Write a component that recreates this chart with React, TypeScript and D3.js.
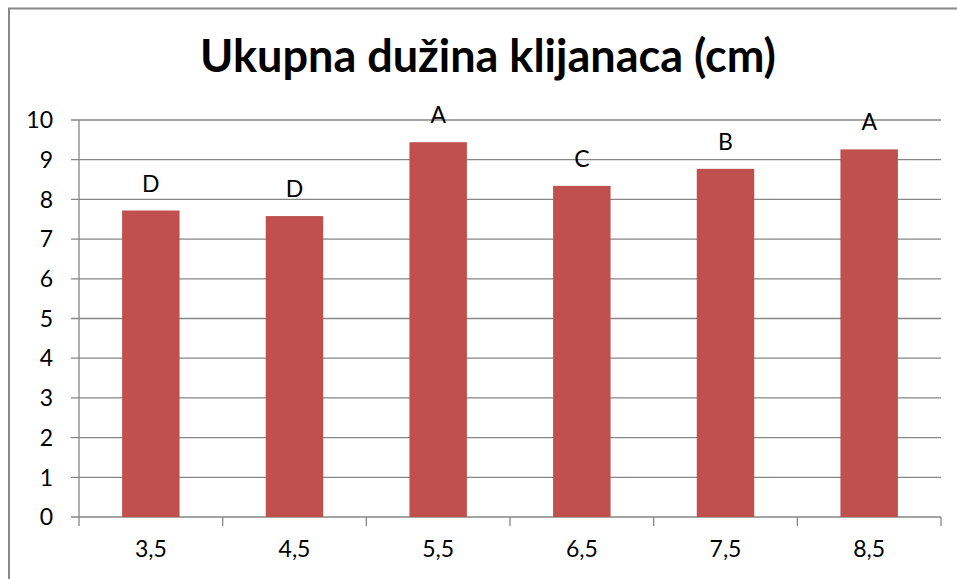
import React, { useEffect, useRef } from 'react'
import * as d3 from 'd3'

const categories = ['3,5', '4,5', '5,5', '6,5', '7,5', '8,5']
const values = [7.72, 7.58, 9.44, 8.34, 8.77, 9.26]
const letters = ['D', 'D', 'A', 'C', 'B', 'A']
const yTicks = [0, 1, 2, 3, 4, 5, 6, 7, 8, 9, 10]

const W = 957
const H = 579
const FONT = 'Lato, "Open Sans", sans-serif'

const App: React.FC = () => {
    const svgRef = useRef<SVGSVGElement>(null)

    useEffect(() => {
        if (!svgRef.current) return
        const svg = d3.select(svgRef.current)
        svg.selectAll('*').remove()

        const left = 79, right = 941, top = 120, bottom = 517

        // outer chart frame (runs off the right/bottom edge)
        svg.append('rect')
            .attr('x', 9).attr('y', 8.5)
            .attr('width', W + 20).attr('height', H + 20)
            .attr('fill', '#fff')
            .attr('stroke', '#888').attr('stroke-width', 2)

        svg.append('text')
            .attr('x', 488).attr('y', 72)
            .attr('text-anchor', 'middle')
            .style('font-family', FONT)
            .style('font-weight', 'bold')
            .style('font-size', '45px')
            .style('fill', '#000')
            .text('Ukupna dužina klijanaca (cm)')

        const x = d3.scaleBand().domain(categories).range([left, right]).paddingInner(0.6).paddingOuter(0.3)
        const xb = d3.scaleBand().domain(categories).range([left, right])
        const y = d3.scaleLinear().domain([0, 10]).range([bottom, top])

        // gridlines + y ticks
        svg.append('g').selectAll('line')
            .data(yTicks)
            .enter().append('line')
            .attr('x1', left - 8).attr('x2', right)
            .attr('y1', d => y(d)).attr('y2', d => y(d))
            .attr('stroke', '#868686').attr('stroke-width', 1.3)

        svg.append('g').selectAll('text')
            .data(yTicks)
            .enter().append('text')
            .attr('x', 53).attr('y', d => y(d))
            .attr('dy', '0.36em')
            .attr('text-anchor', 'end')
            .style('font-family', FONT)
            .style('font-size', '23px')
            .style('fill', '#000')
            .text(d => d)

        // y axis line
        svg.append('line')
            .attr('x1', left).attr('x2', left)
            .attr('y1', top).attr('y2', bottom)
            .attr('stroke', '#868686').attr('stroke-width', 1.3)

        // x tick marks at band boundaries
        const bounds = categories.map(c => xb(c) as number).concat([right])
        svg.append('g').selectAll('line')
            .data(bounds)
            .enter().append('line')
            .attr('x1', d => d).attr('x2', d => d)
            .attr('y1', bottom).attr('y2', bottom + 9)
            .attr('stroke', '#868686').attr('stroke-width', 1.3)

        // bars
        svg.append('g').selectAll('rect')
            .data(values)
            .enter().append('rect')
            .attr('x', (d, i) => x(categories[i]) as number)
            .attr('width', x.bandwidth())
            .attr('y', d => y(d))
            .attr('height', d => bottom - y(d))
            .attr('fill', '#C0504D')

        // significance letters
        svg.append('g').selectAll('text')
            .data(values)
            .enter().append('text')
            .attr('x', (d, i) => (xb(categories[i]) as number) + xb.bandwidth() / 2)
            .attr('y', d => y(d) - 19)
            .attr('text-anchor', 'middle')
            .style('font-family', FONT)
            .style('font-size', '23px')
            .style('fill', '#000')
            .text((d, i) => letters[i])

        // x labels
        svg.append('g').selectAll('text')
            .data(categories)
            .enter().append('text')
            .attr('x', d => (xb(d) as number) + xb.bandwidth() / 2)
            .attr('y', 557)
            .attr('text-anchor', 'middle')
            .style('font-family', FONT)
            .style('font-size', '23px')
            .style('fill', '#000')
            .text(d => d)
    }, [])

    return (
        <svg ref={svgRef} width={W} height={H} viewBox={`0 0 ${W} ${H}`}
            style={{ position: 'absolute', left: 0, top: 0, display: 'block' }} />
    )
}

export default App
